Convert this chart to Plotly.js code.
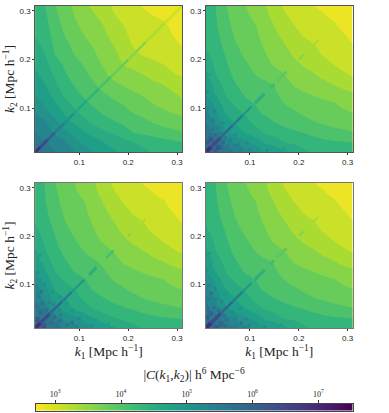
<!DOCTYPE html>
<html>
<head>
<meta charset="utf-8">
<script src="https://cdn.plot.ly/plotly-3.0.1.min.js"></script>
<style>
  body { margin: 0; background: #fff; }
  #chart { width: 389px; height: 413px; }
</style>
</head>
<body>
<div id="chart"></div>
<script>
var k = [0.01, 0.03, 0.05, 0.07, 0.09, 0.11, 0.13, 0.15, 0.17, 0.19, 0.21, 0.23, 0.25, 0.27, 0.29, 0.31];

// log10|C(k1,k2)|, symmetric: each row starts on the diagonal (k2 = k1) and runs up to k2 = 0.31
var panel1 = [
  [5.85, 5.80, 5.66, 5.53, 5.38, 5.24, 5.11, 5.00, 4.89, 4.79, 4.71, 4.63, 4.56, 4.50, 4.46, 4.42],
  [5.65, 5.55, 5.42, 5.20, 5.05, 4.94, 4.84, 4.75, 4.66, 4.58, 4.52, 4.46, 4.41, 4.36, 4.31],
  [5.33, 5.20, 5.02, 4.87, 4.74, 4.63, 4.53, 4.42, 4.31, 4.25, 4.20, 4.15, 4.10, 4.06],
  [4.95, 4.82, 4.65, 4.52, 4.42, 4.34, 4.27, 4.20, 4.12, 4.04, 3.98, 3.93, 3.88],
  [4.62, 4.52, 4.39, 4.28, 4.21, 4.14, 4.04, 3.97, 3.90, 3.83, 3.77, 3.73],
  [4.39, 4.24, 4.16, 4.09, 4.02, 3.94, 3.86, 3.77, 3.70, 3.64, 3.56],
  [4.16, 4.06, 3.97, 3.89, 3.81, 3.74, 3.67, 3.60, 3.53, 3.45],
  [3.90, 3.82, 3.74, 3.67, 3.61, 3.55, 3.50, 3.41, 3.33],
  [3.68, 3.62, 3.56, 3.50, 3.42, 3.34, 3.26, 3.20],
  [3.50, 3.44, 3.37, 3.30, 3.24, 3.17, 3.12],
  [3.30, 3.22, 3.17, 3.12, 3.07, 3.03],
  [3.17, 3.11, 3.05, 3.01, 2.96],
  [3.08, 3.02, 2.97, 2.93],
  [2.99, 2.95, 2.91],
  [2.93, 2.89],
  [2.86]
];
var panel2 = [
  [6.05, 5.95, 5.78, 5.65, 5.47, 5.31, 5.08, 5.03, 4.90, 4.78, 4.64, 4.54, 4.50, 4.47, 4.44, 4.42],
  [5.78, 5.52, 5.33, 5.16, 5.02, 4.82, 4.71, 4.58, 4.52, 4.46, 4.41, 4.37, 4.34, 4.32, 4.31],
  [5.15, 4.98, 4.84, 4.68, 4.55, 4.48, 4.41, 4.35, 4.30, 4.24, 4.19, 4.14, 4.10, 4.06],
  [4.82, 4.66, 4.53, 4.42, 4.32, 4.24, 4.17, 4.11, 4.06, 4.01, 3.96, 3.92, 3.88],
  [4.55, 4.38, 4.27, 4.19, 4.12, 4.07, 4.01, 3.96, 3.91, 3.86, 3.82, 3.78],
  [4.30, 4.18, 4.11, 4.04, 3.98, 3.93, 3.88, 3.83, 3.79, 3.72, 3.66],
  [4.13, 4.07, 3.98, 3.87, 3.80, 3.74, 3.69, 3.64, 3.58, 3.53],
  [4.03, 3.88, 3.74, 3.67, 3.62, 3.56, 3.50, 3.42, 3.34],
  [3.77, 3.65, 3.58, 3.52, 3.44, 3.34, 3.27, 3.21],
  [3.56, 3.48, 3.41, 3.34, 3.24, 3.18, 3.13],
  [3.42, 3.31, 3.22, 3.15, 3.09, 3.05],
  [3.25, 3.16, 3.09, 3.03, 2.97],
  [3.10, 3.03, 2.98, 2.94],
  [2.99, 2.94, 2.91],
  [2.91, 2.88],
  [2.85]
];
var panel3 = [
  [6.10, 5.92, 5.82, 5.60, 5.50, 5.28, 5.10, 5.00, 4.88, 4.76, 4.66, 4.56, 4.50, 4.46, 4.43, 4.41],
  [5.82, 5.58, 5.30, 5.20, 5.00, 4.86, 4.70, 4.60, 4.52, 4.46, 4.40, 4.36, 4.33, 4.31, 4.30],
  [5.20, 5.00, 4.82, 4.70, 4.56, 4.47, 4.40, 4.34, 4.29, 4.23, 4.18, 4.13, 4.09, 4.05],
  [4.86, 4.68, 4.54, 4.43, 4.33, 4.24, 4.16, 4.10, 4.05, 4.00, 3.95, 3.91, 3.87],
  [4.58, 4.40, 4.28, 4.19, 4.12, 4.06, 4.00, 3.95, 3.90, 3.85, 3.81, 3.77],
  [4.33, 4.19, 4.10, 4.03, 3.97, 3.92, 3.87, 3.82, 3.78, 3.71, 3.65],
  [4.12, 4.05, 3.96, 3.85, 3.79, 3.73, 3.68, 3.63, 3.57, 3.52],
  [4.00, 3.86, 3.73, 3.66, 3.61, 3.55, 3.49, 3.41, 3.33],
  [3.76, 3.64, 3.57, 3.51, 3.43, 3.33, 3.26, 3.20],
  [3.55, 3.47, 3.40, 3.33, 3.23, 3.17, 3.12],
  [3.40, 3.30, 3.21, 3.14, 3.08, 3.04],
  [3.24, 3.15, 3.08, 3.02, 2.96],
  [3.09, 3.02, 2.97, 2.93],
  [2.98, 2.93, 2.90],
  [2.90, 2.87],
  [2.84]
];
var panel4 = [
  [6.08, 5.96, 5.76, 5.66, 5.46, 5.33, 5.06, 5.04, 4.89, 4.77, 4.63, 4.54, 4.50, 4.47, 4.44, 4.42],
  [5.80, 5.50, 5.36, 5.14, 5.04, 4.80, 4.72, 4.57, 4.52, 4.46, 4.41, 4.37, 4.34, 4.32, 4.31],
  [5.18, 4.96, 4.86, 4.66, 4.56, 4.47, 4.41, 4.35, 4.30, 4.24, 4.19, 4.14, 4.10, 4.06],
  [4.84, 4.65, 4.54, 4.41, 4.32, 4.24, 4.17, 4.11, 4.06, 4.01, 3.96, 3.92, 3.88],
  [4.56, 4.39, 4.27, 4.19, 4.12, 4.07, 4.01, 3.96, 3.91, 3.86, 3.82, 3.78],
  [4.31, 4.18, 4.11, 4.04, 3.98, 3.93, 3.88, 3.83, 3.79, 3.72, 3.66],
  [4.13, 4.06, 3.97, 3.87, 3.80, 3.74, 3.69, 3.64, 3.58, 3.53],
  [4.02, 3.87, 3.74, 3.67, 3.62, 3.56, 3.50, 3.42, 3.34],
  [3.77, 3.65, 3.58, 3.52, 3.44, 3.34, 3.27, 3.21],
  [3.56, 3.48, 3.41, 3.34, 3.24, 3.18, 3.13],
  [3.41, 3.31, 3.22, 3.15, 3.09, 3.05],
  [3.25, 3.16, 3.09, 3.03, 2.97],
  [3.10, 3.03, 2.98, 2.94],
  [2.99, 2.94, 2.91],
  [2.91, 2.88],
  [2.85]
];

// diagonal spike: [k from, k to, log10|C|, line width]
var spike1 = [
  [0.01, 0.02, 6.9, 3], [0.02, 0.035, 6.4, 3], [0.035, 0.05, 6.0, 3], [0.05, 0.07, 5.5, 2.5],
  [0.07, 0.09, 5.1, 2.5], [0.09, 0.115, 4.7, 2.5], [0.115, 0.14, 4.4, 2.5], [0.14, 0.165, 4.1, 2.5],
  [0.165, 0.2, 3.85, 2.5], [0.2, 0.235, 3.55, 2.5], [0.235, 0.275, 3.3, 2.5], [0.275, 0.31, 3.1, 2.5]
];
var spike2 = [
  [0.01, 0.02, 6.9, 4], [0.02, 0.04, 6.4, 3.5], [0.04, 0.065, 5.9, 2.5], [0.065, 0.085, 5.45, 2.5],
  [0.085, 0.103, 5.0, 2], [0.11, 0.13, 4.5, 3], [0.142, 0.15, 4.25, 2.5], [0.155, 0.175, 3.95, 2.5],
  [0.2, 0.21, 3.6, 2], [0.23, 0.24, 3.35, 2], [0.27, 0.275, 3.1, 2]
];
var spike3 = [
  [0.01, 0.02, 6.9, 4], [0.02, 0.04, 6.4, 3.5], [0.04, 0.065, 5.9, 2.5], [0.065, 0.085, 5.45, 2.5],
  [0.085, 0.11, 5.0, 2], [0.12, 0.135, 4.5, 3], [0.155, 0.17, 4.15, 2.5],
  [0.2, 0.205, 3.6, 2], [0.23, 0.235, 3.35, 2], [0.27, 0.275, 3.1, 2]
];
var spike4 = spike2;

// noisy cells near the corner: [k1, k2, log10|C|, size], drawn on both sides of the diagonal
var speck1 = [];
var speck2 = [
  [0.013, 0.03, 6.3, 4], [0.018, 0.045, 5.9, 4], [0.013, 0.06, 5.7, 3], [0.022, 0.055, 5.95, 3],
  [0.014, 0.08, 5.6, 3], [0.025, 0.075, 5.75, 3], [0.03, 0.045, 6.05, 4], [0.02, 0.035, 6.45, 5],
  [0.035, 0.06, 5.55, 4], [0.04, 0.05, 5.75, 3], [0.028, 0.095, 5.35, 3], [0.015, 0.1, 5.5, 3],
  [0.045, 0.07, 5.35, 3], [0.013, 0.135, 5.3, 3], [0.018, 0.17, 5.05, 2.5]
];
var speck3 = [
  [0.014, 0.028, 6.4, 5], [0.02, 0.042, 6.0, 4], [0.012, 0.055, 5.85, 3], [0.024, 0.06, 5.9, 4],
  [0.016, 0.075, 5.8, 3], [0.022, 0.085, 6.0, 3], [0.032, 0.048, 5.95, 4], [0.038, 0.062, 5.6, 3],
  [0.013, 0.095, 5.55, 3], [0.03, 0.1, 5.35, 3], [0.048, 0.06, 5.5, 3], [0.045, 0.085, 5.2, 3],
  [0.015, 0.125, 5.35, 3], [0.02, 0.16, 5.1, 2.5], [0.06, 0.075, 5.1, 3]
];
var speck4 = [
  [0.012, 0.032, 6.35, 4], [0.019, 0.04, 6.1, 5], [0.014, 0.05, 5.95, 3], [0.026, 0.052, 5.85, 4],
  [0.013, 0.07, 5.7, 3], [0.021, 0.082, 5.95, 3], [0.031, 0.07, 5.65, 3], [0.036, 0.046, 5.9, 4],
  [0.016, 0.098, 5.55, 3], [0.029, 0.092, 5.4, 3], [0.042, 0.065, 5.45, 3], [0.05, 0.08, 5.2, 3],
  [0.012, 0.13, 5.32, 3], [0.017, 0.165, 5.08, 2.5]
];

var panels = [panel1, panel2, panel3, panel4];
var spikes = [spike1, spike2, spike3, spike4];
var specks = [speck1, speck2, speck3, speck4];
var tickVals = [0.1, 0.2, 0.3];
var cbarVals = [3, 4, 5, 6, 7];
var cbarText = ["10<sup>3</sup>", "10<sup>4</sup>", "10<sup>5</sup>", "10<sup>6</sup>", "10<sup>7</sup>"];

// bandStep is a little under levelStep: the reference bands read lighter towards the dark end
var zMin = 2.70, zMax = 7.52, levelStep = 0.268, bandStep = 0.25, nLevels = 16;
var viridis = ["#440154", "#482878", "#3e4989", "#31688e", "#26828e", "#1f9e89", "#35b779", "#6ece58", "#b5de2b", "#fde725"];

function rgb(hex) {
  return [1, 3, 5].map(function (i) { return parseInt(hex.substr(i, 2), 16); });
}
// reversed viridis over the colour bar range
function colorOf(v) {
  var t = (1 - (v - zMin) / (zMax - zMin)) * (viridis.length - 1);
  var i = Math.max(0, Math.min(viridis.length - 2, Math.floor(t)));
  var a = rgb(viridis[i]), b = rgb(viridis[i + 1]), f = t - i;
  return "rgb(" + a.map(function (c, n) { return Math.round(c + (b[n] - c) * f); }).join(",") + ")";
}
function mirror(tri) {
  return k.map(function (_, j) {
    return k.map(function (_, i) {
      var lo = Math.min(i, j), hi = Math.max(i, j);
      return tri[lo][hi - lo];
    });
  });
}

// one stop per band so each band gets the colour of its middle value
var bandScale = [];
for (var b = 0; b <= nLevels; b++) {
  bandScale.push([b / nLevels, colorOf(zMin + (b + 0.5) * bandStep)]);
}
var firstLevel = zMin + levelStep;

var data = [];
var layout = {
  width: 389,
  height: 413,
  margin: { l: 0, r: 0, t: 0, b: 0 },
  paper_bgcolor: "#fff",
  plot_bgcolor: "#fff",
  showlegend: false
};

var xBoxes = [[35.3, 182], [206, 352.5], [35.3, 182], [206, 352.5]];
var yBoxes = [[6, 152], [6, 152], [183, 328], [183, 328]];
var serif = "Liberation Serif";

panels.forEach(function (tri, p) {
  var n = p + 1;
  var xName = n === 1 ? "x" : "x" + n, yName = n === 1 ? "y" : "y" + n;
  data.push({
    type: "contour",
    x: k,
    y: k,
    z: mirror(tri),
    xaxis: xName,
    yaxis: yName,
    autocontour: false,
    contours: {
      start: firstLevel,
      end: firstLevel + (nLevels - 1) * levelStep + 0.001,
      size: levelStep,
      coloring: "fill",
      showlines: false
    },
    line: { width: 0, smoothing: 0.7 },
    colorscale: bandScale,
    zmin: firstLevel - levelStep / 2,
    zmax: firstLevel + (nLevels - 0.5) * levelStep,
    showscale: false
  });
  var sp = specks[p];
  if (sp.length) {
    data.push({
      type: "scatter",
      mode: "markers",
      x: sp.map(function (s) { return s[0]; }).concat(sp.map(function (s) { return s[1]; })),
      y: sp.map(function (s) { return s[1]; }).concat(sp.map(function (s) { return s[0]; })),
      xaxis: xName,
      yaxis: yName,
      marker: {
        symbol: "square",
        size: sp.map(function (s) { return s[3]; }).concat(sp.map(function (s) { return s[3]; })),
        color: sp.map(function (s) { return colorOf(s[2]); }).concat(sp.map(function (s) { return colorOf(s[2]); })),
        line: { width: 0 }
      }
    });
  }
  spikes[p].forEach(function (s) {
    data.push({
      type: "scatter",
      mode: "lines",
      x: [s[0], s[1]],
      y: [s[0], s[1]],
      xaxis: xName,
      yaxis: yName,
      line: { color: colorOf(s[2]), width: s[3] }
    });
  });
  var frame = p < 2 ? "#555" : "#777";
  var common = {
    range: [0.01, 0.31],
    tickvals: tickVals,
    ticktext: ["0.1", "0.2", "0.3"],
    ticks: "outside",
    ticklen: 2,
    tickwidth: 1,
    tickcolor: "#333",
    tickfont: { family: "Liberation Sans", size: 8, color: "#262626" },
    showgrid: false,
    zeroline: false,
    showline: true,
    mirror: true,
    linecolor: frame,
    linewidth: 1
  };
  var xAxis = Object.assign({}, common, {
    domain: [xBoxes[p][0] / 389, xBoxes[p][1] / 389],
    anchor: yName
  });
  var yAxis = Object.assign({}, common, {
    domain: [1 - yBoxes[p][1] / 413, 1 - yBoxes[p][0] / 413],
    anchor: xName
  });
  if (p >= 2) {
    xAxis.title = { text: "<i>k</i><sub>1</sub> [Mpc h<sup>−1</sup>]", font: { family: serif, size: 13.5, color: "#222" }, standoff: 0 };
  }
  if (p === 0 || p === 2) {
    yAxis.title = { text: "<i>k</i><sub>2</sub> [Mpc h<sup>−1</sup>]", font: { family: serif, size: 13.5, color: "#222" }, standoff: 1 };
  }
  layout["xaxis" + (n === 1 ? "" : n)] = xAxis;
  layout["yaxis" + (n === 1 ? "" : n)] = yAxis;
});

// colour bar drawn as its own strip
var ramp = [];
for (var v = zMin; v <= zMax; v += 0.02) ramp.push(v);
data.push({
  type: "heatmap",
  x: ramp,
  y: [0, 1],
  z: [ramp, ramp],
  xaxis: "x5",
  yaxis: "y5",
  colorscale: "Viridis",
  reversescale: true,
  zmin: zMin,
  zmax: zMax,
  showscale: false
});
layout.xaxis5 = {
  domain: [35.5 / 389, 352.5 / 389],
  anchor: "y5",
  side: "top",
  range: [zMin, zMax],
  tickvals: cbarVals,
  ticktext: cbarText,
  ticks: "outside",
  ticklen: 3,
  tickcolor: "#333",
  tickfont: { family: serif, size: 8, color: "#222" },
  showgrid: false,
  zeroline: false,
  showline: true,
  mirror: true,
  linecolor: "#444",
  title: {
    text: "|<i>C</i>(<i>k</i><sub>1</sub>,<i>k</i><sub>2</sub>)| h<sup>6</sup> Mpc<sup>−6</sup>",
    font: { family: serif, size: 13.5, color: "#222" },
    standoff: 5
  }
};
layout.yaxis5 = {
  domain: [1 - 410.5 / 413, 1 - 404 / 413],
  anchor: "x5",
  range: [0, 1],
  showticklabels: false,
  ticks: "",
  showgrid: false,
  zeroline: false,
  showline: true,
  mirror: true,
  linecolor: "#444"
};

Plotly.newPlot("chart", data, layout, { displayModeBar: false, staticPlot: true });
</script>
</body>
</html>
